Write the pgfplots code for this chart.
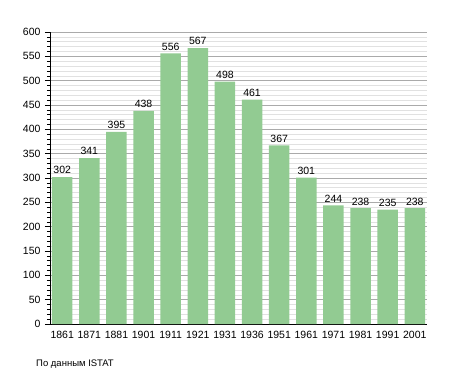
\documentclass[border=0pt]{standalone}
\usepackage{fontspec}
\setmainfont{Liberation Sans}
\usepackage{pgfplots}
\pgfplotsset{compat=1.18}
\definecolor{barfill}{RGB}{146,203,146}
\definecolor{majgrid}{RGB}{170,170,170}
\definecolor{mingrid}{RGB}{225,225,225}
\begin{document}
\begin{tikzpicture}
\useasboundingbox (-50pt,-49pt) rectangle (405pt,324pt);
\begin{axis}[
  at={(0pt,0pt)}, anchor=south west,
  scale only axis,
  width=377pt, height=292pt,
  xmin=-0.45, xmax=13.45,
  ymin=0, ymax=600,
  axis x line=bottom, axis y line=left,
  axis line style={-, black, line width=0.9pt},
  xtick={0,...,13},
  xticklabels={1861,1871,1881,1901,1911,1921,1931,1936,1951,1961,1971,1981,1991,2001},
  x tick style={draw=none},
  ytick={0,50,...,600},
  minor y tick num=4,
  tick align=outside,
  major tick length=5pt, minor tick length=3pt,
  y tick style={black, line width=0.6pt},
  ymajorgrids, yminorgrids,
  major grid style={majgrid, line width=0.6pt},
  minor grid style={mingrid, line width=0.5pt},
  tick label style={font=\fontsize{10.5}{12}\selectfont},
  /pgf/number format/assume math mode=true,
  xticklabel style={yshift=1pt},
  yticklabel style={xshift=-1pt},
  ybar, bar width=20.5pt,
  nodes near coords,
  nodes near coords style={font=\fontsize{10.5}{12}\selectfont, text=black, /pgf/number format/assume math mode=true, yshift=-0.5pt},
  clip=false,
]
\addplot[fill=barfill, draw=none] coordinates {
(0,302) (1,341) (2,395) (3,438) (4,556) (5,567) (6,498)
(7,461) (8,367) (9,301) (10,244) (11,238) (12,235) (13,238)};
\end{axis}
\node[anchor=base west, font=\fontsize{9.5}{11}\selectfont, inner sep=0pt] at (-14pt,-42pt) {По данным ISTAT};
\end{tikzpicture}
\end{document}
